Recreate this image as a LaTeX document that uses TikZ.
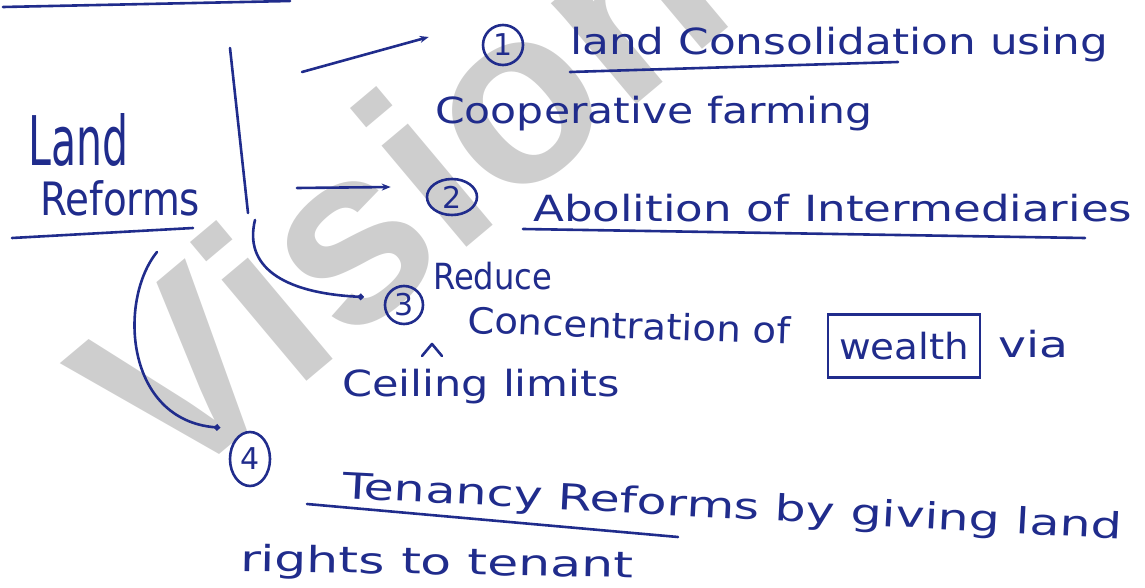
\documentclass[tikz,border=0pt]{standalone}
\usepackage{fontspec}
\setmainfont{DejaVu Sans}
\newfontfamily\markfont{Liberation Sans}
\usetikzlibrary{arrows.meta,shapes.geometric}
\definecolor{ink}{RGB}{32,44,140}
\definecolor{wmgray}{RGB}{206,206,206}
\newcommand{\hw}[2]{\resizebox{#1}{\height}{#2}}

\begin{document}
\begin{tikzpicture}[x=1pt,y=-1pt,
    pen/.style={draw=ink, line width=2.6pt, line cap=round, line join=round},
    arr/.style={pen, -{Stealth[length=9pt,width=7pt]}},
    dotarr/.style={pen, -{Circle[length=6pt]}},
    hand/.style={text=ink, inner sep=0pt, anchor=base west, font=\fontsize{36}{40}\selectfont},
    num/.style={ellipse, pen, inner sep=0pt, text=ink, font=\fontsize{30}{30}\selectfont}]
  \useasboundingbox (0,0) rectangle (1145,588);
  \clip (0,0) rectangle (1145,588);
  % watermark
  \node[text=wmgray, anchor=base west, rotate=40, inner sep=0pt,
        font=\markfont\bfseries\fontsize{250}{250}\selectfont] (wm) at (169,497) {Vision};
  % rule left from the line above
  \draw[pen] (3,7) -- (290,1);
  % root
  \node[hand, anchor=north west, align=left, font=\fontsize{46}{50}\selectfont] (root) at (28,113)
    {\resizebox{100pt}{52pt}{Land}\\\hspace{12pt}\hw{160pt}{Reforms}};
  \draw[pen] (12,238) -- (193,228);
  \coordinate (brTop) at (230,48);
  \coordinate (brBot) at (248,213);
  \draw[pen] (brTop) -- (brBot);
  % 1
  \node[num, minimum width=40pt, minimum height=40pt] (n1) at (503,45) {1};
  \node[hand] (t1) at (570,55) {\hw{538pt}{land Consolidation using}};
  \draw[pen] (570,72) -- (898,62);
  \node[hand] (t1b) at (435,124) {\hw{437pt}{Cooperative farming}};
  % 2
  \node[num, minimum width=50pt, minimum height=36pt] (n2) at (452,197) {2};
  \node[hand] (t2) at (533,222) {\hw{599pt}{Abolition of Intermediaries}};
  \draw[pen] (523,229) -- (1085,238);
  % 3
  \node[hand] (t3a) at (433,289) {\hw{119pt}{Reduce}};
  \node[num, minimum width=38pt, minimum height=38pt] (n3) at (404,305) {3};
  \node[hand, rotate=-2] (t3) at (467,333) {\hw{323pt}{Concentration of}};
  \node[hand, anchor=center, draw=ink, line width=2.6pt, minimum width=152pt,
        minimum height=63pt] (w) at (904,346) {\hw{130pt}{wealth}};
  \node[hand] (t3c) at (998,357) {\hw{70pt}{via}};
  \node[hand] (t3d) at (342,396) {\hw{278pt}{Ceiling limits}};
  \draw[pen] (422,356) -- (432,344) -- (442,356);
  % 4
  \node[num, minimum width=40pt, minimum height=54pt] (n4) at (250,459) {4};
  \node[hand, rotate=-3] (t4) at (342,498) {\hw{780pt}{Tenancy Reforms by giving land}};
  \draw[pen] (307,504) -- (678,537);
  \node[hand, rotate=-1] (t4b) at (240,571) {\hw{393pt}{rights to tenant}};
  % arrows
  \coordinate (a1) at (302,72);
  \coordinate (a2) at (297,188);
  \coordinate (a3) at (255,220);
  \coordinate (a4) at (157,252);
  \draw[arr] (a1) -- ([xshift=-53pt,yshift=8pt]n1.west);
  \draw[arr] (a2) -- ([xshift=-35pt,yshift=10pt]n2.west);
  \draw[dotarr] (a3) .. controls (244,265) and (280,293) .. ([xshift=-20pt,yshift=8pt]n3.west);
  \draw[dotarr] (a4) .. controls (118,300) and (125,420) .. ([xshift=-30pt,yshift=3pt]n4.north);
\end{tikzpicture}
\end{document}
